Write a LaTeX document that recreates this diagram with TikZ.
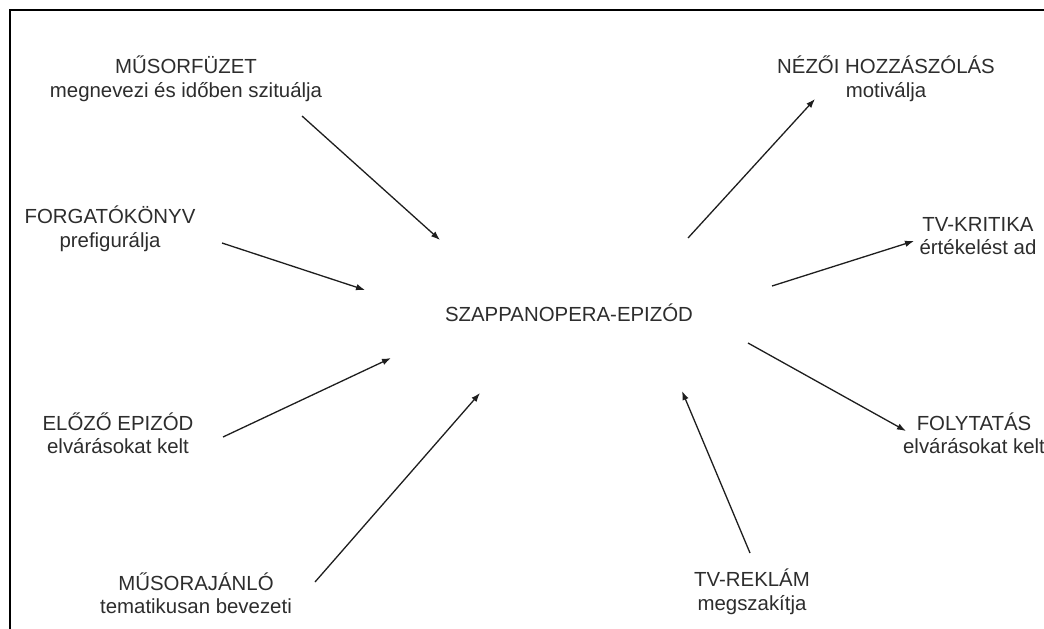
\documentclass[tikz,border=0pt]{standalone}
\usepackage{fontspec}
\setmainfont{Liberation Sans}
\usetikzlibrary{arrows.meta}
\definecolor{txt}{RGB}{45,45,45}
\definecolor{ln}{RGB}{30,30,30}
\tikzset{
  lbl/.style={align=center, inner sep=0pt, text=txt, font=\fontsize{20.4}{23.5}\selectfont},
  conn/.style={draw=ln, line width=1.3pt, -{Latex[length=9pt,width=6.5pt]}},
  frame/.style={draw=black, line width=2.5pt}
}
\begin{document}
\begin{tikzpicture}[x=1pt,y=-1pt]
\useasboundingbox (0,0) rectangle (1044,629);
\clip (0,0) rectangle (1044,629);
\fill[white] (0,0) rectangle (1044,629);
% frame (top and left edges)
\coordinate (fbl) at (10,640);
\coordinate (ftl) at (10,10);
\coordinate (ftr) at (1050,10);
\draw[frame] (fbl) -- (ftl) -- (ftr);

% texts
\node[lbl] (center) at (569,313) {SZAPPANOPERA-EPIZÓD};
\node[lbl] (musorfuzet) at (186,79) {MŰSORFÜZET\\megnevezi és időben szituálja};
\node[lbl] (forgato) at (110,229) {FORGATÓKÖNYV\\prefigurálja};
\node[lbl] (elozo) at (118,433) {ELŐZŐ EPIZÓD\\elvárásokat kelt};
\node[lbl] (musorajanlo) at (196,593) {MŰSORAJÁNLÓ\\tematikusan bevezeti};
\node[lbl] (nezoi) at (886,79) {NÉZŐI HOZZÁSZÓLÁS\\motiválja};
\node[lbl] (kritika) at (978,236) {TV-KRITIKA\\értékelést ad};
\node[lbl] (folytatas) at (974,433) {FOLYTATÁS\\elvárásokat kelt};
\node[lbl] (reklam) at (752,592) {TV-REKLÁM\\megszakítja};

% connector end points
\coordinate (s1) at (302,116); \coordinate (e1) at (440,240);
\coordinate (s2) at (222,243); \coordinate (e2) at (365,290);
\coordinate (s3) at (223,437); \coordinate (e3) at (391,358);
\coordinate (s4) at (315,582); \coordinate (e4) at (480,393);
\coordinate (s5) at (688,238); \coordinate (e5) at (815,99);
\coordinate (s6) at (772,286); \coordinate (e6) at (914,241);
\coordinate (s7) at (748,343); \coordinate (e7) at (906,431);
\coordinate (s8) at (750,553); \coordinate (e8) at (682,391);

\draw[conn] (s1) -- (e1);
\draw[conn] (s2) -- (e2);
\draw[conn] (s3) -- (e3);
\draw[conn] (s4) -- (e4);
\draw[conn] (s5) -- (e5);
\draw[conn] (s6) -- (e6);
\draw[conn] (s7) -- (e7);
\draw[conn] (s8) -- (e8);
\end{tikzpicture}
\end{document}
